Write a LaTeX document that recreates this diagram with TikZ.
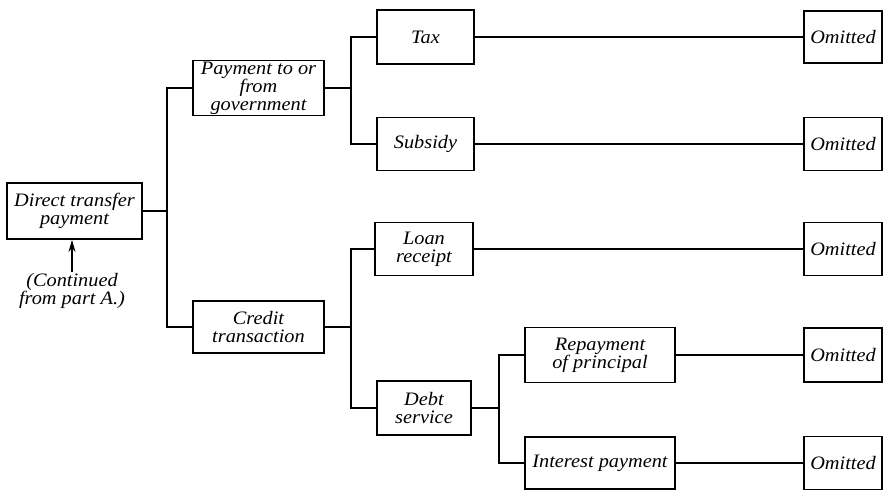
\documentclass[tikz,border=0pt]{standalone}
\usepackage{fontspec}
\newfontfamily\df[FakeStretch=1.07]{Liberation Serif}
\usetikzlibrary{arrows.meta}
\begin{document}
\begin{tikzpicture}[x=1pt,y=-1pt,
  every node/.style={font=\df\itshape\fontsize{19}{18}\selectfont},
  box/.style={draw,line width=1.8pt,inner sep=0pt,align=center,anchor=center},
  conn/.style={line width=1.6pt}]
\useasboundingbox (0,0) rectangle (887,493);
% level 0
\node[box,minimum width=135pt,minimum height=56pt] (dtp) at (74.5,211) {Direct transfer\\payment};
\node[align=center,inner sep=1pt] (cont) at (72,291) {(Continued\\from part A.)};
% level 1
\node[box,minimum width=131pt,minimum height=55pt] (pg) at (258.5,88) {Payment to or\\from\\government};
\node[box,minimum width=131pt,minimum height=52pt] (ct) at (258.5,327) {Credit\\transaction};
% level 2
\node[box,minimum width=97pt,minimum height=54pt] (tax) at (425.5,37) {Tax};
\node[box,minimum width=97pt,minimum height=53pt] (sub) at (425.5,144) {Subsidy};
\node[box,minimum width=98pt,minimum height=53pt] (loan) at (424,249) {Loan\\receipt};
\node[box,minimum width=94pt,minimum height=54pt] (debt) at (424,408) {Debt\\service};
% level 3
\node[box,minimum width=150pt,minimum height=55pt] (rep) at (600,355) {Repayment\\of principal};
\node[box,minimum width=150pt,minimum height=52pt] (int) at (600,463) {Interest payment};
% omitted
\node[box,minimum width=78pt,minimum height=52pt] (o1) at (843,37) {Omitted};
\node[box,minimum width=78pt,minimum height=53pt] (o2) at (843,144) {Omitted};
\node[box,minimum width=78pt,minimum height=53pt] (o3) at (843,249) {Omitted};
\node[box,minimum width=78pt,minimum height=54pt] (o4) at (843,355) {Omitted};
\node[box,minimum width=78pt,minimum height=53pt] (o5) at (843,463) {Omitted};
% junctions
\coordinate (j0) at (167,211);
\coordinate (j1) at (351,88);
\coordinate (j2) at (351,327);
\coordinate (j3) at (499,408);
% connectors
\draw[conn] (dtp.east) -- (j0);
\draw[conn] (pg.west) -| (j0) |- (ct.west);
\draw[conn] (pg.east) -- (j1);
\draw[conn] (tax.west) -| (j1) |- (sub.west);
\draw[conn] (ct.east) -- (j2);
\draw[conn] (loan.west) -| (j2) |- (debt.west);
\draw[conn] (debt.east) -- (j3);
\draw[conn] (rep.west) -| (j3) |- (int.west);
\draw[conn] (tax.east) -- (o1.west);
\draw[conn] (sub.east) -- (o2.west);
\draw[conn] (loan.east) -- (o3.west);
\draw[conn] (rep.east) -- (o4.west);
\draw[conn] (int.east) -- (o5.west);
\draw[line width=1.6pt,-{Stealth[length=12pt,width=7pt]}] (cont.north) -- (cont.north |- dtp.south);
\end{tikzpicture}
\end{document}
